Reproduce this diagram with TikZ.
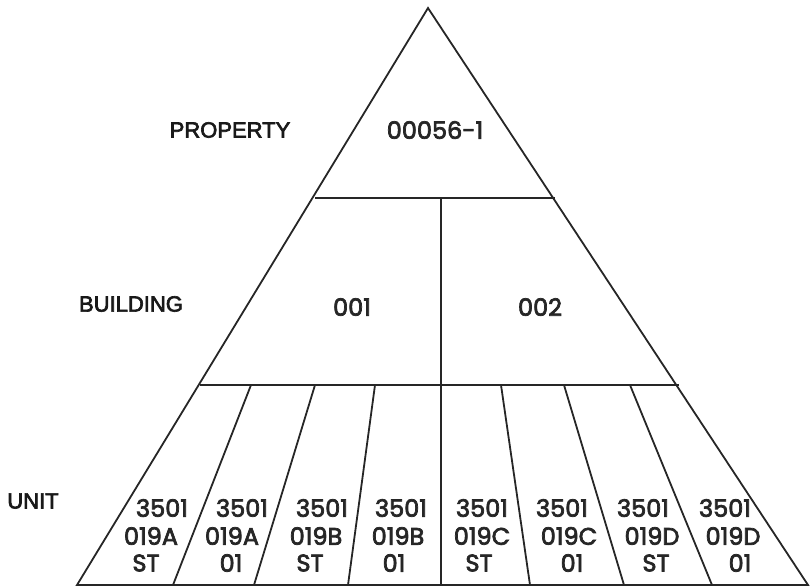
\documentclass[tikz,border=0pt]{standalone}
\usepackage{fontspec}
\setmainfont[FakeBold=3]{Liberation Sans}
\newfontfamily\numfont[FakeBold=3]{Poppins}
\begin{document}
\begin{tikzpicture}[x=1pt,y=-1pt,
  edge/.style={draw=black!85,line width=1.8pt,line join=miter},
  lvl/.style={font=\fontsize{22}{26}\selectfont,text=black!90,inner sep=0pt},
  num/.style={font=\numfont\fontsize{24}{27}\selectfont,text=black!85,inner sep=0pt}]
\useasboundingbox (0,0) rectangle (810,587);
% frame points
\coordinate (apex) at (428,8);
\coordinate (pl) at (315,198);
\coordinate (pr) at (555,198);
\coordinate (bl) at (200,385);
\coordinate (br) at (679,385);
\coordinate (ul) at (77,585);
\coordinate (ur) at (808,585);
\coordinate (mt) at (441,198);
\coordinate (mb) at (441,585);
\draw[edge] (apex) -- (ul) -- (ur) -- cycle;
\draw[edge] (pl) -- (pr);
\draw[edge] (bl) -- (br);
\draw[edge] (mt) -- (mb);
% unit dividers
\foreach \t/\b [count=\i] in {251/173,315/254,375/348,501/530,564/624,630/712}{
  \coordinate (dt\i) at (\t,385);
  \coordinate (db\i) at (\b,585);
  \draw[edge] (dt\i) -- (db\i);
}
% level labels
\node[lvl] (lprop) at (230,130) {PROPERTY};
\node[lvl] (lbuild) at (131,304) {BUILDING};
\node[lvl] (lunit) at (33,501) {UNIT};
% values
\node[num] (prop) at (435,130) {00056-1};
\node[num] (b1) at (352,307) {001};
\node[num] (b2) at (540,307) {002};
% units
\foreach \xa/\xb/\xc/\code/\suf [count=\i] in {
  162/151/146/019A/ST, 242/232/231/019A/01, 322/316/310/019B/ST, 401/398/394/019B/01,
  482/482/479/019C/ST, 562/569/572/019C/01, 643/652/656/019D/ST, 725/733/740/019D/01}{
  \node[num] (ua\i) at (\xa,508) {3501};
  \node[num] (ub\i) at (\xb,536) {\code};
  \node[num] (uc\i) at (\xc,563) {\suf};
}
\end{tikzpicture}
\end{document}
